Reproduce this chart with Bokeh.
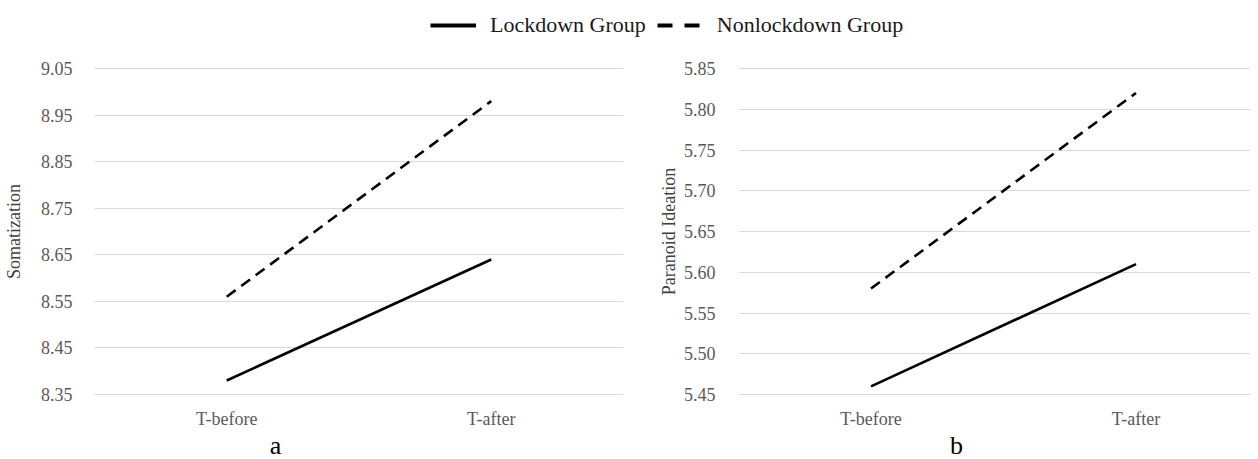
from bokeh.plotting import figure
from bokeh.models import (Range1d, FixedTicker, NumeralTickFormatter, Legend, LegendItem, Label)
from bokeh.layouts import column, row
from bokeh.embed import file_html
from bokeh.resources import INLINE

# ---- data ----
categories = ["T-before", "T-after"]
series_names = ["Lockdown Group", "Nonlockdown Group"]

soma_lockdown = [8.38, 8.64]
soma_nonlockdown = [8.56, 8.98]
soma_ticks = [8.35, 8.45, 8.55, 8.65, 8.75, 8.85, 8.95, 9.05]

para_lockdown = [5.46, 5.61]
para_nonlockdown = [5.58, 5.82]
para_ticks = [5.45, 5.50, 5.55, 5.60, 5.65, 5.70, 5.75, 5.80, 5.85]

panel_titles = ["Somatization", "Paranoid Ideation"]
panel_tags = ["a", "b"]

FONT = "Liberation Serif"
TICK_COLOR = "#595959"
GRID_COLOR = "#d9d9d9"

x_pos = [i + 0.5 for i in range(len(categories))]

LEG_H = 53
PANEL_H = 379
TAG_H = 27
FRAME_H = 342


def make_panel(width, border_left, border_right, x_end, y_start, y_end, ticks,
               lock, nonlock, title, label_standoff, title_standoff):
    p = figure(width=width, height=PANEL_H, output_backend="svg", toolbar_location=None,
               x_range=Range1d(0, x_end), y_range=Range1d(y_start, y_end),
               min_border_left=border_left, min_border_right=border_right,
               min_border_top=7, min_border_bottom=PANEL_H - 7 - FRAME_H)
    p.outline_line_color = None
    p.xgrid.grid_line_color = None
    p.ygrid.grid_line_color = GRID_COLOR
    p.ygrid.grid_line_width = 1
    p.yaxis.ticker = FixedTicker(ticks=ticks)
    p.yaxis.formatter = NumeralTickFormatter(format="0.00")
    p.xaxis.ticker = FixedTicker(ticks=x_pos)
    p.xaxis.major_label_overrides = {x: c for x, c in zip(x_pos, categories)}
    for ax in (p.xaxis, p.yaxis):
        ax.axis_line_color = None
        ax.major_tick_line_color = None
        ax.minor_tick_line_color = None
        ax.major_tick_out = 0
        ax.major_tick_in = 0
        ax.major_label_text_font = FONT
        ax.major_label_text_font_size = "18px"
        ax.major_label_text_color = TICK_COLOR
    p.xaxis.major_label_standoff = 6
    p.yaxis.major_label_standoff = label_standoff
    p.yaxis.axis_label = title
    p.yaxis.axis_label_text_font = FONT
    p.yaxis.axis_label_text_font_size = "18px"
    p.yaxis.axis_label_text_font_style = "normal"
    p.yaxis.axis_label_text_color = "#404040"
    p.yaxis.axis_label_standoff = title_standoff

    p.line(x_pos, lock, line_color="black", line_width=2.6)
    p.line(x_pos, nonlock, line_color="black", line_width=2.6, line_dash="11 7")
    return p


# left panel: frame 94..623, right panel: frame 738..1250
p1 = make_panel(648, 94, 25, 2.0, 8.35 - 8 / 465.7, 8.35 + 334 / 465.7, soma_ticks,
                soma_lockdown, soma_nonlockdown, panel_titles[0], 22, 14)
p2 = make_panel(602, 90, 0, 2.0 * 512 / 530, 5.45 - 8 / 815, 5.45 + 334 / 815, para_ticks,
                para_lockdown, para_nonlockdown, panel_titles[1], 23, 2)


def strip(height):
    s = figure(width=1250, height=height, output_backend="svg", toolbar_location=None,
               x_range=Range1d(0, 1), y_range=Range1d(0, 1),
               min_border=0, min_border_left=0, min_border_right=0,
               min_border_top=0, min_border_bottom=0)
    s.axis.visible = False
    s.grid.visible = False
    s.outline_line_color = None
    return s


# legend strip (its sample lines carry the real series, kept out of view by the ranges)
lg = strip(LEG_H)
r1 = lg.line(x_pos, soma_lockdown, line_color="black", line_width=4)
r2 = lg.line(x_pos, soma_nonlockdown, line_color="black", line_width=4, line_dash="15 12")
legend = Legend(items=[LegendItem(label=series_names[0], renderers=[r1]),
                       LegendItem(label=series_names[1], renderers=[r2])],
                orientation="horizontal", location=(430, 15),
                glyph_width=46, glyph_height=26, label_height=26,
                label_standoff=14, spacing=11, padding=0, margin=0,
                border_line_color=None, background_fill_alpha=0,
                label_text_font=FONT, label_text_font_size="22px",
                label_text_color="#1a1a1a")
lg.add_layout(legend, "center")

# panel tags strip
tags = strip(TAG_H)
for tag, tx in zip(panel_tags, [275, 956]):
    tags.add_layout(Label(x=tx, y=14, x_units="screen", y_units="screen", text=tag,
                          text_font=FONT, text_font_size="26px", text_color="black",
                          text_align="center", text_baseline="alphabetic"))

layout = column(lg, row(p1, p2, spacing=0), tags, spacing=0)
open("out.html", "w").write(file_html(layout, INLINE))
